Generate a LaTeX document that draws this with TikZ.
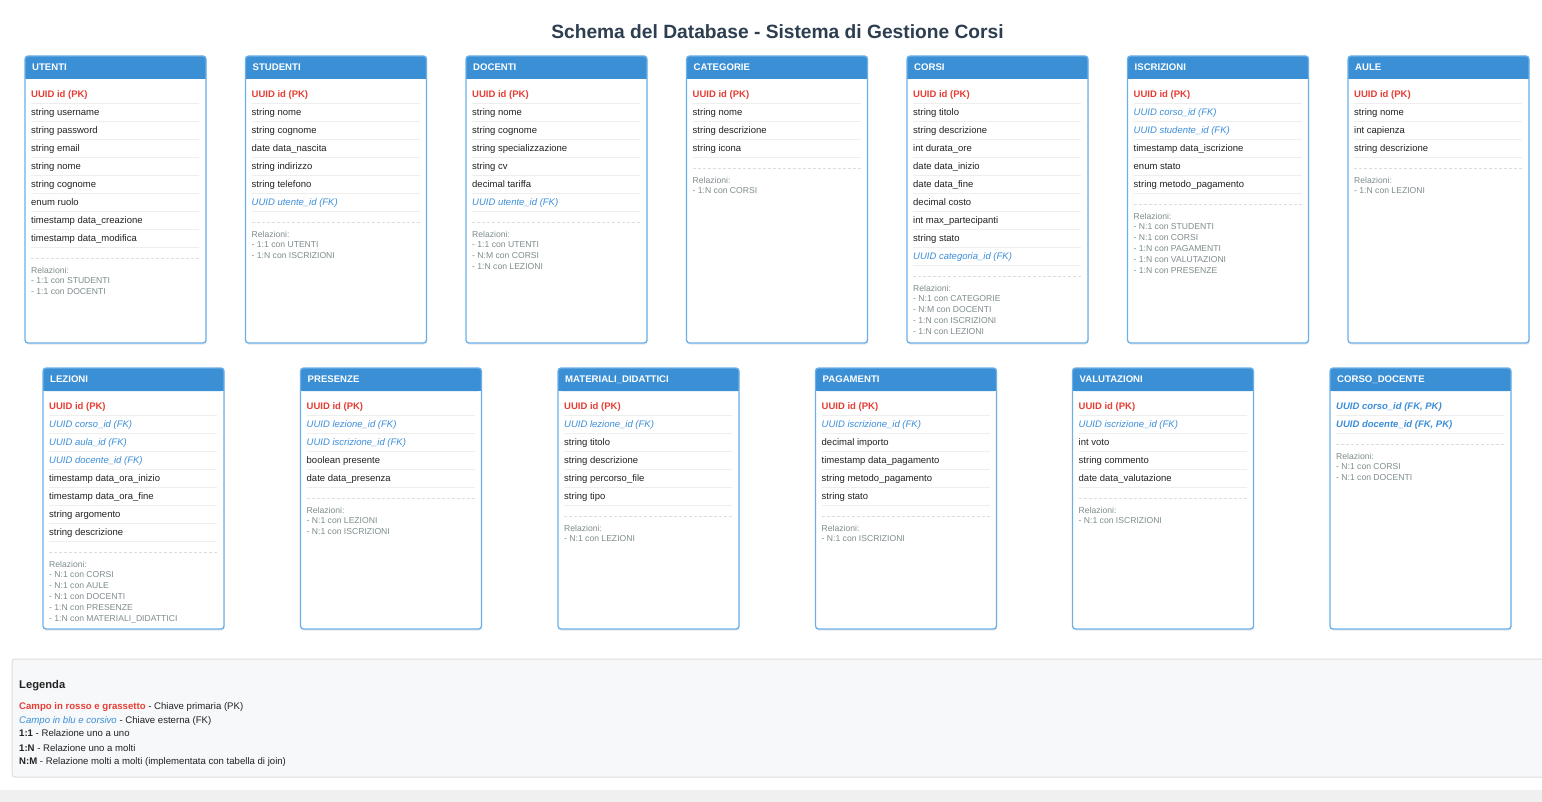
\documentclass[tikz,border=0pt]{standalone}
\usepackage{fontspec}
\setmainfont{Liberation Sans}
\definecolor{hdrc}{HTML}{3A8FD5}
\definecolor{bordc}{HTML}{6CB0EA}
\definecolor{pkc}{HTML}{E53E35}
\definecolor{fkc}{HTML}{3B8ED9}
\definecolor{relc}{HTML}{7F8C8D}
\definecolor{fieldc}{HTML}{222222}
\definecolor{sepc}{HTML}{EEEEEE}
\definecolor{dashc}{HTML}{DDDDDD}
\definecolor{titlec}{HTML}{2C3E50}
\definecolor{legbg}{HTML}{F7F8FA}
\definecolor{legbord}{HTML}{DDDDDD}
\definecolor{stripc}{HTML}{F0F0F0}
\definecolor{shadowc}{HTML}{E4E8EC}
\newcount\rowno
\tikzset{
  fieldtxt/.style={font=\fontsize{9.5}{11}\selectfont, text=fieldc, inner sep=0pt, anchor=base west},
  pktxt/.style={fieldtxt, text=pkc, font=\fontsize{9.5}{11}\selectfont\bfseries},
  fktxt/.style={fieldtxt, text=fkc, font=\fontsize{9.5}{11}\selectfont\itshape},
  pkfktxt/.style={fieldtxt, text=fkc, font=\fontsize{9.5}{11}\selectfont\bfseries\itshape},
  hdrtxt/.style={font=\fontsize{9.6}{11}\selectfont\bfseries, text=white, inner sep=0pt, anchor=base west},
  reltxt/.style={font=\fontsize{8.6}{10}\selectfont, text=relc, inner sep=0pt, anchor=base west},
  sepline/.style={draw=sepc, line width=0.8pt},
  dashline/.style={draw=dashc, line width=0.8pt, dash pattern=on 3pt off 2pt},
  boxborder/.style={draw=bordc, line width=1.3pt, rounded corners=3pt},
  legtxt/.style={font=\fontsize{9.6}{11}\selectfont, text=fieldc, inner sep=0pt, anchor=base west},
  legtitle/.style={font=\fontsize{11.2}{13}\selectfont\bfseries, text=fieldc, inner sep=0pt, anchor=base west},
  titletxt/.style={font=\fontsize{19.2}{22}\selectfont\bfseries, text=titlec, inner sep=0pt, anchor=base}
}
% #1 id, #2 x, #3 y, #4 height, #5 title
\newcommand\tbl[5]{%
  \gdef\tid{#1}\gdef\tx{#2}\gdef\ty{#3}\global\rowno=0\relax
  \fill[shadowc, rounded corners=3pt] (#2+0.6,#3+1.6) rectangle ++(181,#4);
  \fill[white, rounded corners=3pt] (#2,#3) rectangle ++(181,#4);
  \fill[hdrc, rounded corners=3pt] (#2,#3) rectangle ++(181,23);
  \fill[hdrc] (#2,#3+12) rectangle ++(181,11);
  \draw[boxborder] (#2,#3) rectangle ++(181,#4);
  \node[hdrtxt, name=#1-title] at (#2+7,#3+11.5+3.4) {#5};
}
\newcommand\fld[2]{%
  \pgfmathsetmacro\cy{\ty+38+18*\the\rowno}%
  \node[#1, name=\tid-f\the\rowno] at (\tx+6,\cy+3.4) {#2};
  \draw[sepline] (\tx+6,\cy+9) -- (\tx+174,\cy+9);
  \global\advance\rowno by 1\relax
}
\newcommand\rels[1]{%
  \pgfmathsetmacro\dy{\ty+40+18*\the\rowno}%
  \draw[dashline] (\tx+6,\dy) -- (\tx+174,\dy);
  \node[reltxt, name=\tid-rel] at (\tx+6,\dy+15.1) {Relazioni:};
  \foreach \r [count=\j] in {#1} {\node[reltxt, name=\tid-rel\j] at (\tx+6,\dy+15.1+10.8*\j) {\r};}
}
\begin{document}
\begin{tikzpicture}[x=1pt,y=-1pt]
\useasboundingbox (0,0) rectangle (1542,802);
\fill[white] (0,0) rectangle (1542,802);
\node[titletxt] (title) at (777.5,39) {Schema del Database - Sistema di Gestione Corsi};

% ---------- top row ----------
\tbl{utenti}{25}{56}{287}{UTENTI}
\fld{pktxt}{UUID id (PK)}
\fld{fieldtxt}{string username}
\fld{fieldtxt}{string password}
\fld{fieldtxt}{string email}
\fld{fieldtxt}{string nome}
\fld{fieldtxt}{string cognome}
\fld{fieldtxt}{enum ruolo}
\fld{fieldtxt}{timestamp data\_creazione}
\fld{fieldtxt}{timestamp data\_modifica}
\rels{- 1:1 con STUDENTI,- 1:1 con DOCENTI}

\tbl{studenti}{245.5}{56}{287}{STUDENTI}
\fld{pktxt}{UUID id (PK)}
\fld{fieldtxt}{string nome}
\fld{fieldtxt}{string cognome}
\fld{fieldtxt}{date data\_nascita}
\fld{fieldtxt}{string indirizzo}
\fld{fieldtxt}{string telefono}
\fld{fktxt}{UUID utente\_id (FK)}
\rels{- 1:1 con UTENTI,- 1:N con ISCRIZIONI}

\tbl{docenti}{466}{56}{287}{DOCENTI}
\fld{pktxt}{UUID id (PK)}
\fld{fieldtxt}{string nome}
\fld{fieldtxt}{string cognome}
\fld{fieldtxt}{string specializzazione}
\fld{fieldtxt}{string cv}
\fld{fieldtxt}{decimal tariffa}
\fld{fktxt}{UUID utente\_id (FK)}
\rels{- 1:1 con UTENTI,- N:M con CORSI,- 1:N con LEZIONI}

\tbl{categorie}{686.5}{56}{287}{CATEGORIE}
\fld{pktxt}{UUID id (PK)}
\fld{fieldtxt}{string nome}
\fld{fieldtxt}{string descrizione}
\fld{fieldtxt}{string icona}
\rels{- 1:N con CORSI}

\tbl{corsi}{907}{56}{287}{CORSI}
\fld{pktxt}{UUID id (PK)}
\fld{fieldtxt}{string titolo}
\fld{fieldtxt}{string descrizione}
\fld{fieldtxt}{int durata\_ore}
\fld{fieldtxt}{date data\_inizio}
\fld{fieldtxt}{date data\_fine}
\fld{fieldtxt}{decimal costo}
\fld{fieldtxt}{int max\_partecipanti}
\fld{fieldtxt}{string stato}
\fld{fktxt}{UUID categoria\_id (FK)}
\rels{- N:1 con CATEGORIE,- N:M con DOCENTI,- 1:N con ISCRIZIONI,- 1:N con LEZIONI}

\tbl{iscrizioni}{1127.5}{56}{287}{ISCRIZIONI}
\fld{pktxt}{UUID id (PK)}
\fld{fktxt}{UUID corso\_id (FK)}
\fld{fktxt}{UUID studente\_id (FK)}
\fld{fieldtxt}{timestamp data\_iscrizione}
\fld{fieldtxt}{enum stato}
\fld{fieldtxt}{string metodo\_pagamento}
\rels{- N:1 con STUDENTI,- N:1 con CORSI,- 1:N con PAGAMENTI,- 1:N con VALUTAZIONI,- 1:N con PRESENZE}

\tbl{aule}{1348}{56}{287}{AULE}
\fld{pktxt}{UUID id (PK)}
\fld{fieldtxt}{string nome}
\fld{fieldtxt}{int capienza}
\fld{fieldtxt}{string descrizione}
\rels{- 1:N con LEZIONI}

% ---------- bottom row ----------
\tbl{lezioni}{43}{368}{261}{LEZIONI}
\fld{pktxt}{UUID id (PK)}
\fld{fktxt}{UUID corso\_id (FK)}
\fld{fktxt}{UUID aula\_id (FK)}
\fld{fktxt}{UUID docente\_id (FK)}
\fld{fieldtxt}{timestamp data\_ora\_inizio}
\fld{fieldtxt}{timestamp data\_ora\_fine}
\fld{fieldtxt}{string argomento}
\fld{fieldtxt}{string descrizione}
\rels{- N:1 con CORSI,- N:1 con AULE,- N:1 con DOCENTI,- 1:N con PRESENZE,- 1:N con MATERIALI\_DIDATTICI}

\tbl{presenze}{300.5}{368}{261}{PRESENZE}
\fld{pktxt}{UUID id (PK)}
\fld{fktxt}{UUID lezione\_id (FK)}
\fld{fktxt}{UUID iscrizione\_id (FK)}
\fld{fieldtxt}{boolean presente}
\fld{fieldtxt}{date data\_presenza}
\rels{- N:1 con LEZIONI,- N:1 con ISCRIZIONI}

\tbl{materiali}{558}{368}{261}{MATERIALI\_DIDATTICI}
\fld{pktxt}{UUID id (PK)}
\fld{fktxt}{UUID lezione\_id (FK)}
\fld{fieldtxt}{string titolo}
\fld{fieldtxt}{string descrizione}
\fld{fieldtxt}{string percorso\_file}
\fld{fieldtxt}{string tipo}
\rels{- N:1 con LEZIONI}

\tbl{pagamenti}{815.5}{368}{261}{PAGAMENTI}
\fld{pktxt}{UUID id (PK)}
\fld{fktxt}{UUID iscrizione\_id (FK)}
\fld{fieldtxt}{decimal importo}
\fld{fieldtxt}{timestamp data\_pagamento}
\fld{fieldtxt}{string metodo\_pagamento}
\fld{fieldtxt}{string stato}
\rels{- N:1 con ISCRIZIONI}

\tbl{valutazioni}{1072.5}{368}{261}{VALUTAZIONI}
\fld{pktxt}{UUID id (PK)}
\fld{fktxt}{UUID iscrizione\_id (FK)}
\fld{fieldtxt}{int voto}
\fld{fieldtxt}{string commento}
\fld{fieldtxt}{date data\_valutazione}
\rels{- N:1 con ISCRIZIONI}

\tbl{corsodocente}{1330}{368}{261}{CORSO\_DOCENTE}
\fld{pkfktxt}{UUID corso\_id (FK, PK)}
\fld{pkfktxt}{UUID docente\_id (FK, PK)}
\rels{- N:1 con CORSI,- N:1 con DOCENTI}

% ---------- legend ----------
\draw[draw=legbord, fill=legbg, line width=1pt, rounded corners=3pt] (12,659) rectangle (1570,777);
\node[legtitle] (leg-title) at (19,688) {Legenda};
\node[legtxt] (leg-pk) at (19,709.4) {\textcolor{pkc}{\bfseries Campo in rosso e grassetto} - Chiave primaria (PK)};
\node[legtxt] (leg-fk) at (19,723.4) {\textcolor{fkc}{\itshape Campo in blu e corsivo} - Chiave esterna (FK)};
\node[legtxt] (leg-11) at (19,736.9) {\textbf{1:1} - Relazione uno a uno};
\node[legtxt] (leg-1n) at (19,751.4) {\textbf{1:N} - Relazione uno a molti};
\node[legtxt] (leg-nm) at (19,764.9) {\textbf{N:M} - Relazione molti a molti (implementata con tabella di join)};

\fill[stripc] (0,790) rectangle (1542,802);
\end{tikzpicture}
\end{document}
